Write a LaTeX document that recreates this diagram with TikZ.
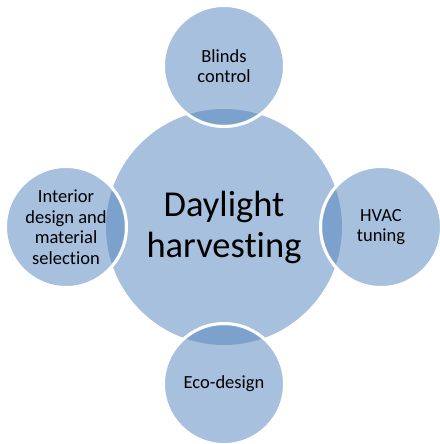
\documentclass[tikz,border=0pt]{standalone}
\usepackage{fontspec}
\setmainfont[Ligatures={NoCommon,NoDiscretionary,NoContextual}]{Carlito}
\definecolor{ringfill}{RGB}{167,192,222}
\definecolor{lensfill}{RGB}{125,161,205}
\tikzset{
  hub/.style={circle, fill=ringfill, minimum size=236, inner sep=0, align=center,
    font=\fontsize{36.5}{41}\selectfont},
  sat/.style={circle, fill=ringfill, draw=white, line width=3, minimum size=121, inner sep=0,
    align=center, font=\fontsize{18.5}{20.5}\selectfont},
}
\begin{document}
\begin{tikzpicture}[x=1pt, y=-1pt]
        \useasboundingbox (0,0) rectangle (439,444);
        \node[hub] (hub) at (224,227) {Daylight\\harvesting};

        \node[sat] (blinds) at (224,66) {Blinds\\control};
        \node[sat] (hvac) at (381,227) {HVAC\\tuning};
        \node[sat] (eco) at (224,384) {Eco-design};
        \node[sat] (interior) at (66,227) {Interior\\design and\\material\\selection};

        % darker lens where each satellite sits over the hub
        \begin{scope}
            \clip (hub.center) circle (118);
            \foreach \s in {blinds, hvac, eco, interior}
                \fill[lensfill] (\s.center) circle (58.5);
        \end{scope}
    \end{tikzpicture}
\end{document}
